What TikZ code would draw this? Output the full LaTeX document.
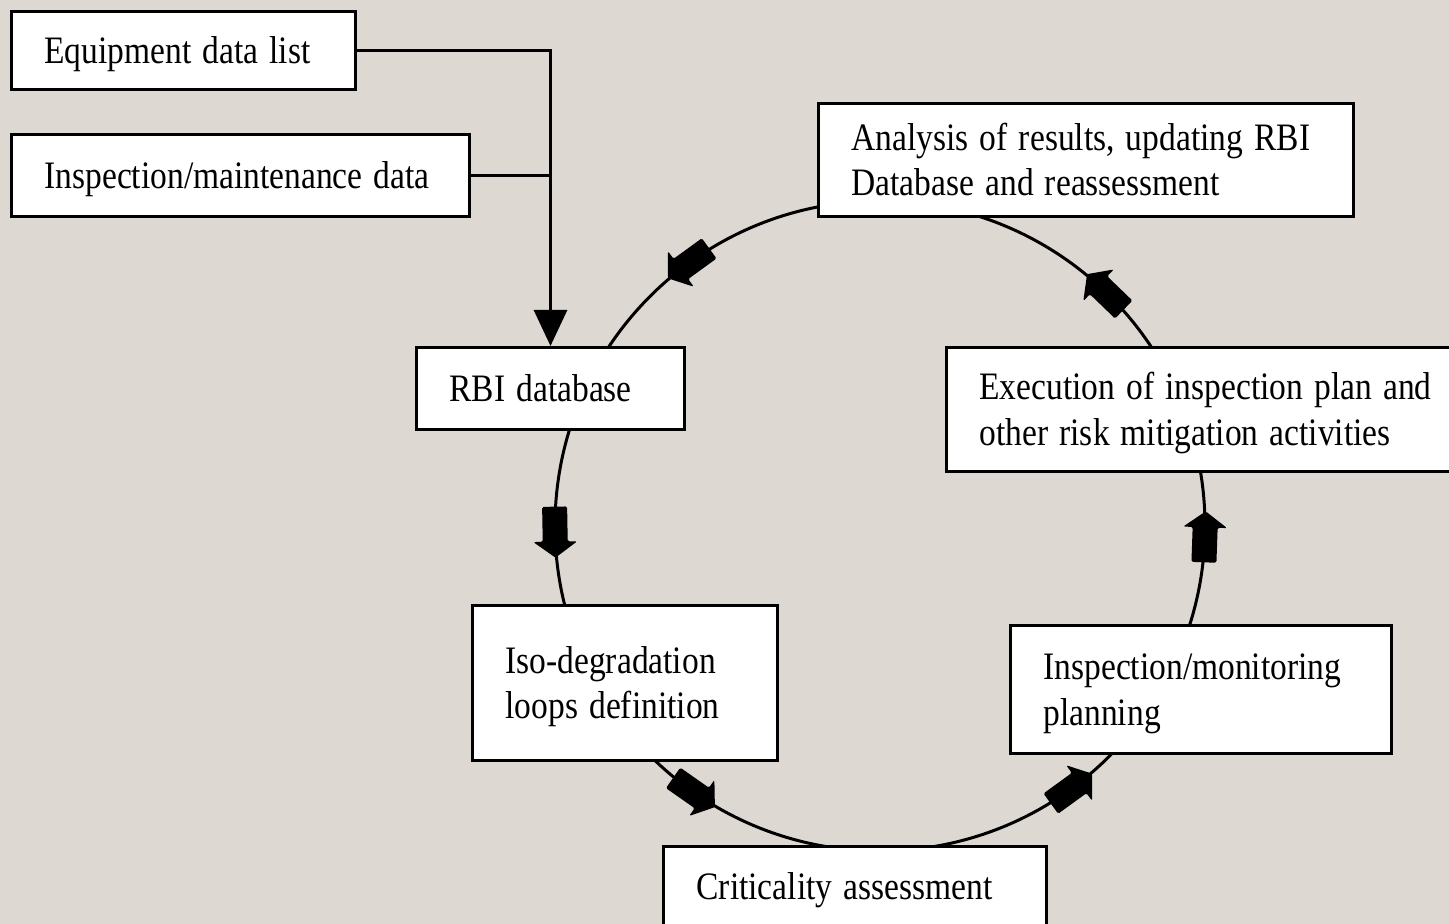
\documentclass[tikz,border=0pt]{standalone}
\usepackage{fontspec}
\setmainfont{Liberation Serif}
\usetikzlibrary{arrows.meta}
\definecolor{bgcol}{RGB}{222,216,211}
\tikzset{
  box/.style={draw=black, line width=3pt, fill=white, anchor=north west, inner xsep=0pt, inner ysep=0pt, align=left, font=\fontsize{33.5}{38.8}\selectfont},
  conn/.style={line width=3pt},
  ring/.style={line width=3pt},
  blockarrow/.style={fill=black, rounded corners=1.5pt},
}
\newcommand{\boxtext}[1]{\raisebox{-4pt}[\height][\depth]{\scalebox{1}[1.16]{\begin{tabular}{@{\hspace{33pt}}l@{}}#1\end{tabular}}}}
\newcommand{\blockarr}[1]{%
  \fill[blockarrow, shift={(880,398)}, rotate=#1, shift={(325,0)}, rotate=90]
    (-25,-12.5) -- (10,-12.5) -- (10,-22) -- (26,0) -- (10,22) -- (10,12.5) -- (-25,12.5) -- cycle;}
\begin{document}
\begin{tikzpicture}[x=1pt,y=1pt]
\useasboundingbox (0,0) rectangle (1449,924);
\fill[bgcol] (0,0) rectangle (1449,924);
% ring
\draw[ring] (880,398) circle (325);
\blockarr{126}
\blockarr{181}
\blockarr{235}
\blockarr{306}
\blockarr{358}
\blockarr{46}
% boxes (pixel y converted: y = 924 - py)
\node[box, text width=344pt, minimum height=78pt] (eq) at (10,914) {\boxtext{Equipment data list}};
\node[box, text width=458pt, minimum height=82pt] (im) at (10,791) {\boxtext{Inspection/maintenance data}};
\node[box, text width=268pt, minimum height=82pt] (rbi) at (415,578) {\boxtext{RBI database}};
\node[box, text width=305pt, minimum height=155pt] (iso) at (471,320) {\boxtext{Iso-degradation\\loops definition}};
\node[box, text width=383pt, minimum height=80pt] (crit) at (662,79) {\boxtext{Criticality assessment}};
\node[box, text width=381pt, minimum height=128pt] (mon) at (1009,300) {\boxtext{Inspection/monitoring\\planning}};
\node[box, text width=530pt, minimum height=124pt] (exe) at (945,578) {\boxtext{Execution of inspection plan and\\other risk mitigation activities}};
\node[box, text width=535pt, minimum height=113pt] (ana) at (817,822) {\boxtext{Analysis of results, updating RBI\\Database and reassessment}};
% input connectors
\coordinate (join) at (im.east -| rbi.north);
\draw[conn, -{Triangle[length=36pt,width=33pt]}] (eq.east) -| (rbi.north);
\draw[conn] (im.east) -- (join);
\end{tikzpicture}
\end{document}
